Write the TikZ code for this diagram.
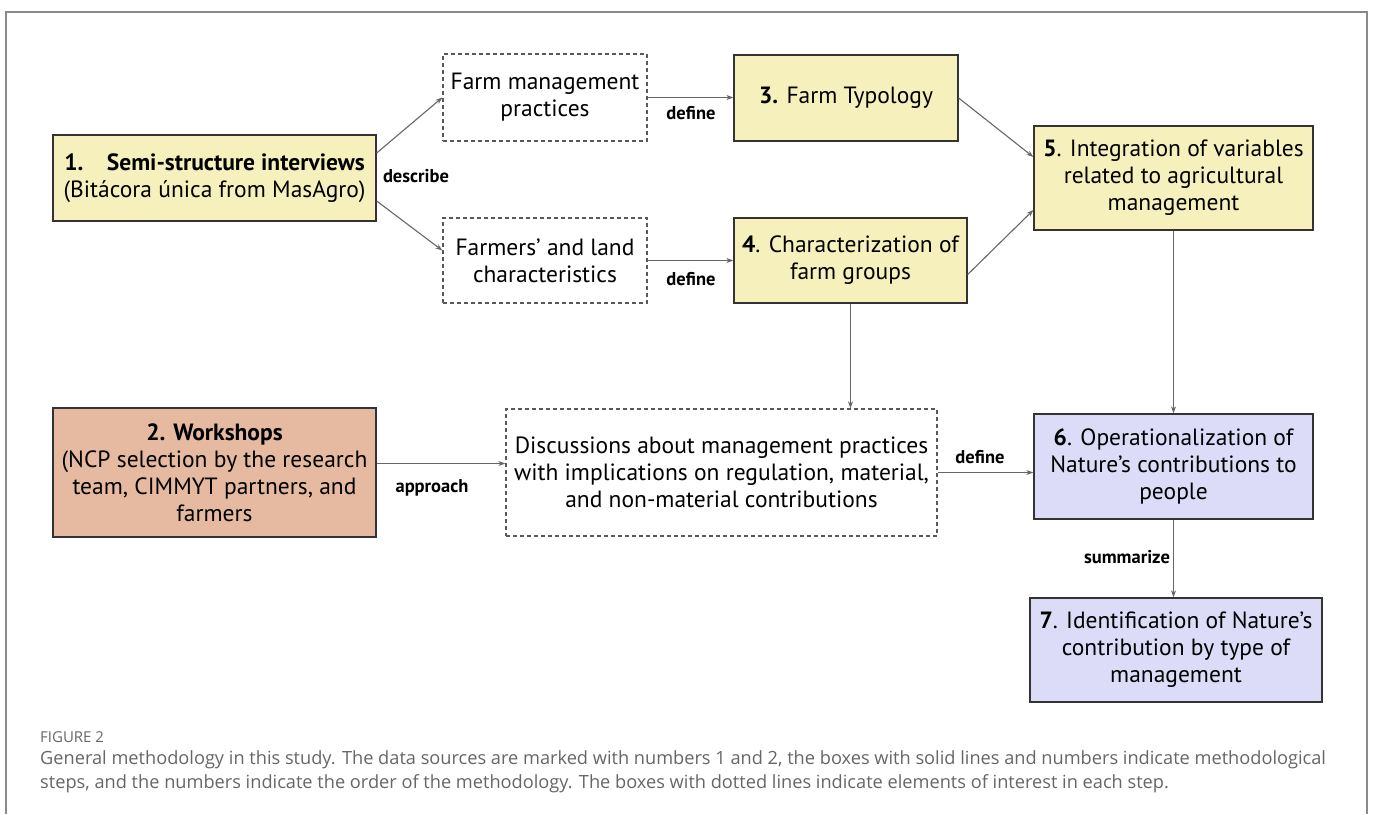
\documentclass[tikz,border=0pt]{standalone}
\usepackage{fontspec}
\setmainfont{PT Sans}
\newfontfamily\capfont{Open Sans}
\usetikzlibrary{arrows.meta}
\definecolor{stepyellow}{HTML}{F6F1BC}
\definecolor{sourcesalmon}{HTML}{E6B9A1}
\definecolor{ncplilac}{HTML}{DCDCF8}
\definecolor{linegray}{HTML}{666666}
\definecolor{framegray}{HTML}{8A8A8A}
\definecolor{capgray}{HTML}{666666}
\tikzset{
stepbox/.style={
  draw=black!80,
  line width=1.3pt,
  align=center,
  inner sep=0pt,
  font=\fontsize{23.5}{27}\selectfont
},
dotbox/.style={
  draw=black!65,
  line width=1.3pt,
  dash pattern=on 4pt off 3pt,
  align=center,
  inner sep=0pt,
  font=\fontsize{23.5}{27}\selectfont
},
flow/.style={draw=linegray, line width=1.1pt, -{Stealth[length=7pt,width=5pt]}},
verb/.style={font=\bfseries\fontsize{18.5}{21}\selectfont, inner sep=0pt}
}

\begin{document}
\begin{tikzpicture}[x=1pt,y=-1pt]
\useasboundingbox (0,0) rectangle (1373,814);
% the outer frame
\draw[framegray, line width=1.5pt] (6,814) -- (6,12) -- (1367,12) -- (1367,814);

% data sources
\node[stepbox, fill=stepyellow, minimum width=323pt, minimum height=86pt] (interviews) at (214.5,178)
  {\textbf{1.\quad Semi-structure interviews}\\(Bitácora única from MasAgro)};
\node[stepbox, fill=sourcesalmon, minimum width=323pt, minimum height=129pt] (workshops) at (214.5,472.5)
  {\textbf{2. Workshops}\\(NCP selection by the research\\team, CIMMYT partners, and\\farmers};

% elements of interest
\node[dotbox, minimum width=204pt, minimum height=87pt] (mgmt) at (545,97.5)
  {Farm management\\practices};
\node[dotbox, minimum width=204pt, minimum height=85pt] (land) at (545,260.5)
  {Farmers’ and land\\characteristics};
\node[dotbox, minimum width=431pt, minimum height=127pt] (discussion) at (721.5,472.5)
  {Discussions about management practices\\with implications on regulation, material,\\and non-material contributions};

% methodological steps
\node[stepbox, fill=stepyellow, minimum width=224pt, minimum height=86pt] (typology) at (846,98)
  {\textbf{3.} Farm Typology};
\node[stepbox, fill=stepyellow, minimum width=233pt, minimum height=85pt] (groups) at (850.5,260.5)
  {\textbf{4}. Characterization of\\farm groups};
\node[stepbox, fill=stepyellow, minimum width=279pt, minimum height=104pt] (integration) at (1173.5,178)
  {\textbf{5}. Integration of variables\\related to agricultural\\management};
\node[stepbox, fill=ncplilac, minimum width=279pt, minimum height=105pt] (ncp) at (1173.5,466.5)
  {\textbf{6}. Operationalization of\\Nature’s contributions to\\people};
\node[stepbox, fill=ncplilac, minimum width=292pt, minimum height=104pt] (identification) at (1176,650)
  {\textbf{7}. Identification of Nature’s\\contribution by type of\\management};

% arrows
\draw[flow] ([yshift=25pt]interviews.east) -- (mgmt.west);
\draw[flow] ([yshift=-23pt]interviews.east) -- ([yshift=10pt]land.west);
\draw[flow] (mgmt.east) -- (mgmt.east -| typology.west);
\draw[flow] (land.east) -- (land.east -| groups.west);
\draw[flow] (typology.east) -- ([yshift=21pt]integration.west);
\draw[flow] ([yshift=-14pt]groups.east) -- ([yshift=-32pt]integration.west);
\draw[flow] (groups.south) -- (groups.south |- discussion.north);
\draw[flow] ([yshift=9pt]workshops.east) -- ([yshift=9pt]workshops.east -| discussion.west);
\draw[flow] (discussion.east) -- (discussion.east -| ncp.west);
\draw[flow] (integration.south) -- (ncp.north);
\draw[flow] (ncp.south) -- (ncp.south |- identification.north);

% arrow labels
\node[verb] (describe) at (416,176) {describe};
\node[verb] (approach) at (432,488) {approach};
\node[verb] (summarize) at (1127,557) {summarize};
\foreach \name/\x/\y in {definetypes/691/113, definegroups/691/279, definencp/980/457}
  \node[verb] (\name) at (\x,\y) {define};

% caption
\node[anchor=west, inner sep=0pt, text=capgray, font=\capfont\fontsize{15}{17}\selectfont] (figlabel) at (40,737) {FIGURE 2};
\node[anchor=west, inner sep=0pt, align=left, text=capgray, font=\capfont\fontsize{18.2}{24.5}\selectfont] (caption) at (40,772)
  {General methodology in this study. The data sources are marked with numbers 1 and 2, the boxes with solid lines and numbers indicate methodological\\steps, and the numbers indicate the order of the methodology. The boxes with dotted lines indicate elements of interest in each step.};
\end{tikzpicture}
\end{document}
